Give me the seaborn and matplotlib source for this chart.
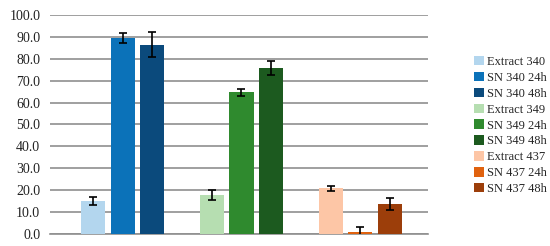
import matplotlib
matplotlib.use("Agg")
import matplotlib.pyplot as plt
import seaborn as sns
import pandas as pd
from matplotlib.patches import Patch

# chart data
labels = ["Extract 340", "SN 340 24h", "SN 340 48h",
          "Extract 349", "SN 349 24h", "SN 349 48h",
          "Extract 437", "SN 437 24h", "SN 437 48h"]
values = [15.0, 89.4, 86.5, 17.9, 64.7, 75.9, 20.9, 1.1, 13.8]
errors = [1.8, 2.3, 5.7, 2.4, 1.6, 3.3, 1.2, 1.9, 2.7]
colors = ["#b3d6ee", "#0b72b9", "#0b4a7c",
          "#b6deb1", "#2f8a2e", "#1c5a1f",
          "#fdc6a6", "#e0620f", "#9c3e0a"]
y_ticks = [0, 10, 20, 30, 40, 50, 60, 70, 80, 90, 100]

# blank slots between the three groups
order = labels[:3] + [" "] + labels[3:6] + ["  "] + labels[6:]

df = pd.DataFrame({"label": labels, "value": values, "err": errors})

sns.set_style("white")
plt.rcParams["font.family"] = ["Liberation Serif", "DejaVu Serif"]

fig = plt.figure(figsize=(5.5, 2.46), dpi=100)
ax = fig.add_axes([0.091, 0.049, 0.687, 0.89])

sns.barplot(data=df, x="label", y="value", hue="label", order=order,
            hue_order=labels, palette=colors, width=0.81, errorbar=None,
            saturation=1, legend=False, ax=ax, zorder=3, linewidth=0)

xpos = [order.index(l) for l in labels]
ax.errorbar(xpos, values, yerr=errors, fmt="none", ecolor="black",
            elinewidth=1.2, capsize=2.6, capthick=1.2, zorder=4)

ax.set_ylim(0, 100)
ax.set_xlim(-1.45, len(order) - 1 + 1.28)
ax.set_yticks(y_ticks)
ax.set_yticklabels([f"{t:.1f}" for t in y_ticks], fontsize=10)
ax.set_xticks([])
ax.set_xlabel("")
ax.set_ylabel("")
ax.yaxis.grid(True, color="#8f8f8f", linewidth=1.2, zorder=0)
ax.set_axisbelow(True)
ax.tick_params(axis="y", length=0, pad=7, colors="#222222")
for side in ["left", "right", "top"]:
    ax.spines[side].set_visible(False)
ax.spines["bottom"].set_color("#8f8f8f")
ax.spines["bottom"].set_linewidth(1.2)

handles = [Patch(facecolor=c, edgecolor="none", label=l) for c, l in zip(colors, labels)]
fig.legend(handles=handles, loc="center left", bbox_to_anchor=(0.852, 0.49),
           frameon=False, fontsize=9, handlelength=0.8, handleheight=0.8,
           handletextpad=0.25, labelspacing=0.3, borderaxespad=0)

fig.savefig("out.png", dpi=100)
plt.close(fig)
